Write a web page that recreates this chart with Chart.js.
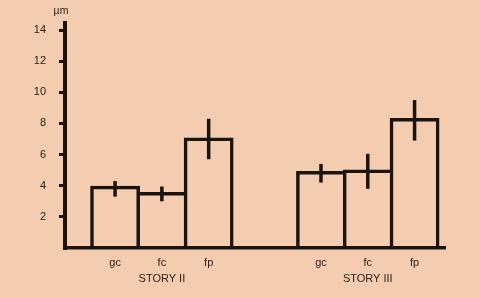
<!DOCTYPE html>
<html>
<head>
<meta charset="utf-8">
<script src="https://cdn.jsdelivr.net/npm/chart.js@4"></script>
<style>
html,body{margin:0;padding:0;background:#f4ccaf;}
#wrap{width:480px;height:298px;position:relative;}
</style>
</head>
<body>
<div id="wrap"><canvas id="c" width="480" height="298"></canvas></div>
<script>
// ---- data ----
const categories = ['gc', 'fc', 'fp'];
const groups = ['STORY II', 'STORY III'];
const meansStoryII = [3.9, 3.5, 7.0];
const meansStoryIII = [4.85, 4.95, 8.25];
const errLowII = [3.3, 3.0, 5.7];
const errHighII = [4.3, 3.95, 8.3];
const errLowIII = [4.2, 3.8, 6.9];
const errHighIII = [5.4, 6.05, 9.5];
const yTicks = [2, 4, 6, 8, 10, 12, 14];
const yUnit = 'µm';

// ---- layout helpers ----
const groupSpacing = 4.4; // distance between group starts in bar widths
const allMeans = [meansStoryII, meansStoryIII];
const allLow = [errLowII, errLowIII];
const allHigh = [errHighII, errHighIII];
const points = [], lows = [], highs = [], labelByX = {};
allMeans.forEach((arr, g) => {
  arr.forEach((v, i) => {
    const x = g * groupSpacing + i;
    points.push({x: x, y: v});
    lows.push(allLow[g][i]);
    highs.push(allHigh[g][i]);
    labelByX[x.toFixed(2)] = (i === 1) ? [categories[i], groups[g]] : categories[i];
  });
});
const xPositions = points.map(p => p.x);

const FONT = "'Liberation Sans', Arial, sans-serif";
const INK = '#1a1410';
// Chart.js draws border = borderWidth + 2*inflateAmount, centred near the bar edge
const BW = 0.5;
const INFL = 1.5;

// shared edges between adjacent bars are drawn once, by the taller bar
function sideWidths(ctx) {
  const i = ctx.dataIndex;
  const n = categories.length;
  const k = i % n;
  const h = points[i].y;
  const left = (k === 0 || h >= points[i - 1].y) ? BW : 0;
  const right = (k === n - 1 || h > points[i + 1].y) ? BW : 0;
  return {top: BW, left: left, right: right, bottom: 0};
}

const errorBars = {
  id: 'errorBars',
  afterDatasetsDraw(chart) {
    const ctx = chart.ctx;
    const y = chart.scales.y;
    const meta = chart.getDatasetMeta(0);
    ctx.save();
    ctx.strokeStyle = INK;
    ctx.lineWidth = 3.5;
    ctx.lineCap = 'butt';
    meta.data.forEach((bar, i) => {
      ctx.beginPath();
      ctx.moveTo(bar.x, y.getPixelForValue(lows[i]));
      ctx.lineTo(bar.x, y.getPixelForValue(highs[i]));
      ctx.stroke();
    });
    ctx.restore();
  }
};

const unitLabel = {
  id: 'unitLabel',
  afterDraw(chart) {
    const ctx = chart.ctx;
    const a = chart.chartArea;
    ctx.save();
    ctx.fillStyle = '#2a221c';
    ctx.font = '10.5px ' + FONT;
    ctx.textAlign = 'center';
    ctx.textBaseline = 'middle';
    ctx.fillText(yUnit, a.left - 4, 11);
    ctx.restore();
  }
};

new Chart(document.getElementById('c'), {
  type: 'bar',
  data: {
    datasets: [{
      data: points,
      backgroundColor: 'rgba(0,0,0,0)',
      borderColor: INK,
      borderWidth: sideWidths,
      inflateAmount: INFL,
      categoryPercentage: 1,
      barPercentage: 1
    }]
  },
  options: {
    responsive: false,
    animation: false,
    devicePixelRatio: 1,
    layout: {padding: {top: 23, right: 35, left: 0, bottom: 0}},
    plugins: {legend: {display: false}, tooltip: {enabled: false}, title: {display: false}},
    scales: {
      x: {
        type: 'linear',
        offset: false,
        min: -1.07,
        max: 7.05,
        afterBuildTicks(scale) { scale.ticks = xPositions.map(v => ({value: v})); },
        afterFit(scale) { scale.height = 50; },
        grid: {display: false, drawOnChartArea: false, drawTicks: false},
        border: {display: true, color: INK, width: 3.5},
        ticks: {
          color: '#2a221c',
          font: {family: FONT, size: 11, lineHeight: 1.45},
          padding: 7,
          maxRotation: 0,
          autoSkip: false,
          callback: (v) => labelByX[Number(v).toFixed(2)] || ''
        }
      },
      y: {
        min: 0,
        max: 14.45,
        afterBuildTicks(scale) { scale.ticks = yTicks.map(v => ({value: v})); },
        afterFit(scale) { scale.width = 65; },
        grid: {drawOnChartArea: false, drawTicks: true, tickLength: 6, color: INK, lineWidth: 3},
        border: {display: true, color: INK, width: 4},
        ticks: {
          color: '#2a221c',
          font: {family: FONT, size: 11},
          padding: 13
        }
      }
    }
  },
  plugins: [errorBars, unitLabel]
});
</script>
</body>
</html>
